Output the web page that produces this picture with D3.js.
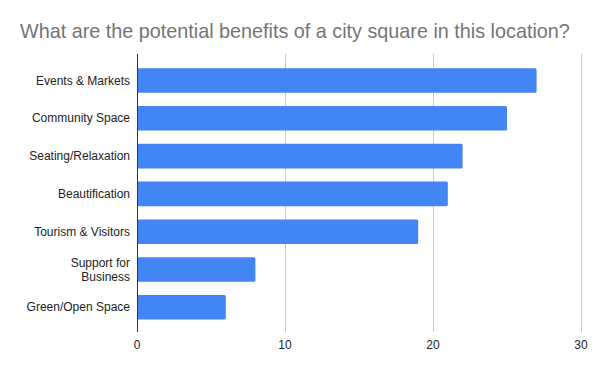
<!DOCTYPE html>
<html lang="en">
<head>
<meta charset="UTF-8">
<title>City square benefits</title>
<style>
  body { margin: 0; background: #fff; font-family: "Liberation Sans", Arial, sans-serif; }
  .title { fill: #757575; font-size: 19.8px; }
  .grid line { stroke: #cccccc; stroke-width: 1; }
  .cat text { fill: #222; font-size: 12px; }
  .tick-label { fill: #222; font-size: 12px; }
</style>
</head>
<body>
<div id="chart"></div>
<script src="https://d3js.org/d3.v7.min.js"></script>
<script>
var categories = ["Events & Markets", "Community Space", "Seating/Relaxation", "Beautification",
                  "Tourism & Visitors", "Support for Business", "Green/Open Space"];
var labelLines = [["Events & Markets"], ["Community Space"], ["Seating/Relaxation"], ["Beautification"],
                  ["Tourism & Visitors"], ["Support for", "Business"], ["Green/Open Space"]];
var values = [27, 25, 22, 21, 19, 8, 6];
var ticks = [0, 10, 20, 30];

var width = 600, height = 371;
var svg = d3.select('#chart').append('svg')
  .attr('width', width)
  .attr('height', height);

svg.append('text')
  .attr('class', 'title')
  .attr('x', 20)
  .attr('y', 38)
  .text('What are the potential benefits of a city square in this location?');

var x = d3.scaleLinear().domain([0, 30]).range([137, 581]);
var y = d3.scaleBand().domain(categories).range([61.6, 326.2])
  .paddingInner(0.35).paddingOuter(0.175);

// gridlines
var grid = svg.append('g').attr('class', 'grid');
grid.selectAll('line')
  .data(ticks.slice(1))
  .enter().append('line')
  .attr('x1', function(d) { return Math.round(x(d)) + 0.5; })
  .attr('x2', function(d) { return Math.round(x(d)) + 0.5; })
  .attr('y1', 54)
  .attr('y2', 332);

svg.selectAll('.tick-label')
  .data(ticks)
  .enter().append('text')
  .attr('class', 'tick-label')
  .attr('x', function(d) { return x(d); })
  .attr('y', 349)
  .attr('text-anchor', 'middle')
  .text(function(d) { return d; });

// bars
svg.selectAll('.bar')
  .data(values)
  .enter().append('rect')
  .attr('class', 'bar')
  .attr('x', x(0))
  .attr('y', function(d, i) { return y(categories[i]); })
  .attr('width', function(d) { return x(d) - x(0); })
  .attr('height', y.bandwidth())
  .attr('rx', 1.5)
  .attr('fill', '#4285f4');

// zero axis line
svg.append('line')
  .attr('x1', Math.round(x(0)) + 0.5)
  .attr('x2', Math.round(x(0)) + 0.5)
  .attr('y1', 54)
  .attr('y2', 332)
  .attr('stroke', '#333')
  .attr('stroke-width', 1);

// category labels
var cat = svg.append('g').attr('class', 'cat');
categories.forEach(function(c, i) {
  var lines = labelLines[i];
  var cy = y(c) + y.bandwidth() / 2;
  var t = cat.append('text')
    .attr('text-anchor', 'end')
    .attr('x', 130)
    .attr('y', cy - (lines.length - 1) * 7 + 4);
  lines.forEach(function(l, j) {
    t.append('tspan')
      .attr('x', 130)
      .attr('dy', j === 0 ? 0 : 14)
      .text(l);
  });
});
</script>
</body>
</html>
